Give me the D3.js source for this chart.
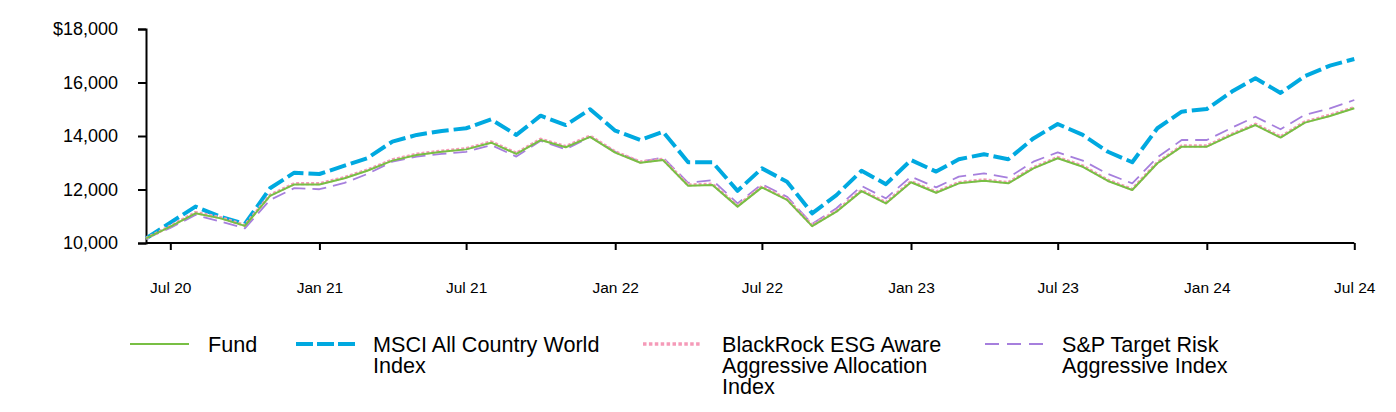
<!DOCTYPE html>
<html>
<head>
<meta charset="utf-8">
<script src="https://cdn.jsdelivr.net/npm/d3@7"></script>
<style>
  html, body { margin: 0; padding: 0; background: #fff; }
  svg { display: block; font-family: "Liberation Sans", Arial, sans-serif; }
</style>
</head>
<body>
<svg id="chart" width="1396" height="412"></svg>
<script>
// ---- data ----
const months = [
  "2020-06","2020-07","2020-08","2020-09","2020-10","2020-11","2020-12",
  "2021-01","2021-02","2021-03","2021-04","2021-05","2021-06","2021-07","2021-08","2021-09","2021-10","2021-11","2021-12",
  "2022-01","2022-02","2022-03","2022-04","2022-05","2022-06","2022-07","2022-08","2022-09","2022-10","2022-11","2022-12",
  "2023-01","2023-02","2023-03","2023-04","2023-05","2023-06","2023-07","2023-08","2023-09","2023-10","2023-11","2023-12",
  "2024-01","2024-02","2024-03","2024-04","2024-05","2024-06","2024-07"
];
const fund = [
  10170,10610,11110,10920,10640,11760,12190,
  12190,12420,12700,13080,13290,13410,13500,13750,13330,13850,13580,13970,
  13380,13000,13100,12140,12170,11360,12080,11610,10630,11170,11940,11480,
  12270,11880,12230,12330,12230,12790,13170,12850,12320,11980,12980,13600,
  13600,14040,14410,13940,14500,14750,15035
];
const msci = [
  10170,10760,11360,10980,10710,12045,12630,
  12580,12890,13170,13790,14040,14190,14290,14620,14040,14760,14410,15000,
  14200,13850,14160,13020,13020,11950,12790,12290,11110,11790,12700,12200,
  13100,12670,13130,13320,13130,13910,14450,14040,13410,13020,14290,14910,
  15010,15660,16160,15610,16240,16630,16880
];
const esg = [
  10170,10630,11140,10950,10660,11790,12220,
  12220,12450,12730,13110,13320,13440,13530,13780,13360,13880,13610,14000,
  13410,13030,13130,12170,12200,11390,12110,11640,10660,11200,11970,11510,
  12300,11910,12260,12360,12260,12820,13200,12880,12350,12010,13010,13630,
  13630,14070,14440,13970,14530,14780,15065
];
const spTarget = [
  10170,10560,11050,10800,10550,11610,12050,
  12010,12250,12580,13040,13230,13330,13410,13660,13230,13820,13500,13970,
  13410,13040,13200,12250,12350,11480,12200,11730,10710,11300,12130,11670,
  12480,12080,12480,12600,12440,13040,13390,13080,12580,12230,13200,13850,
  13850,14310,14720,14250,14790,15035,15346
];
const seriesNames = ["Fund", "MSCI All Country World Index", "BlackRock ESG Aware Aggressive Allocation Index", "S&P Target Risk Aggressive Index"];
const yTicks = [10000, 12000, 14000, 16000, 18000];
const xTickLabels = ["Jul 20","Jan 21","Jul 21","Jan 22","Jul 22","Jan 23","Jul 23","Jan 24","Jul 24"];
const xTickMonths = ["2020-07","2021-01","2021-07","2022-01","2022-07","2023-01","2023-07","2024-01","2024-07"];

// ---- chart ----
const svg = d3.select("#chart");
const parse = d3.timeParse("%Y-%m");
const dates = months.map(parse);

const x = d3.scaleTime().domain([parse("2020-06"), parse("2024-07")]).range([146, 1354.3]);
const y = d3.scaleLinear().domain([10000, 18000]).range([243, 29]);

// y axis
const yAxis = d3.axisLeft(y).tickValues(yTicks).tickSize(8).tickPadding(20)
  .tickFormat(d => d === 18000 ? "$" + d3.format(",")(d) : d3.format(",")(d));
const gy = svg.append("g").attr("transform", "translate(146,0)").call(yAxis);
gy.select(".domain").attr("stroke", "#000").attr("stroke-width", 2);
gy.selectAll(".tick line").attr("stroke", "#000").attr("stroke-width", 2);
gy.selectAll(".tick text").attr("font-size", 18).attr("fill", "#000")
  .attr("font-family", "Liberation Sans, Arial, sans-serif");

// x axis
const xAxis = d3.axisBottom(x).tickValues(xTickMonths.map(parse)).tickSize(7).tickPadding(32)
  .tickFormat((d, i) => xTickLabels[i]);
const gx = svg.append("g").attr("transform", "translate(0,243)").call(xAxis);
gx.select(".domain").attr("stroke", "#000").attr("stroke-width", 2)
  .attr("d", "M146,0H1354.3");
gx.selectAll(".tick line").attr("stroke", "#000").attr("stroke-width", 2);
gx.selectAll(".tick text").attr("font-size", 15.5).attr("fill", "#000")
  .attr("font-family", "Liberation Sans, Arial, sans-serif");

// lines
const styles = [
  { data: spTarget, color: "#A67FDD", width: 1.8, dash: "14,7" },
  { data: msci, color: "#00A9E0", width: 4, dash: "17,5" },
  { data: esg, color: "#F59AB8", width: 3.2, dash: "3,2" },
  { data: fund, color: "#78BF44", width: 2, dash: null }
];
const line = d3.line().x((d, i) => x(dates[i])).y(d => y(d));
styles.forEach(s => {
  svg.append("path").datum(s.data)
    .attr("fill", "none")
    .attr("stroke", s.color)
    .attr("stroke-width", s.width)
    .attr("stroke-dasharray", s.dash)
    .attr("stroke-linejoin", "round")
    .attr("d", line);
});

// legend
const legend = [
  { name: seriesNames[0], lines: ["Fund"], color: "#78BF44", width: 2, dash: null, x0: 130, x1: 189, tx: 208 },
  { name: seriesNames[1], lines: ["MSCI All Country World", "Index"], color: "#00A9E0", width: 4, dash: "17,4", x0: 296, x1: 355, tx: 373 },
  { name: seriesNames[2], lines: ["BlackRock ESG Aware", "Aggressive Allocation", "Index"], color: "#F59AB8", width: 3.5, dash: "3.5,2.4", x0: 643, x1: 702, tx: 722 },
  { name: seriesNames[3], lines: ["S&P Target Risk", "Aggressive Index"], color: "#A67FDD", width: 1.8, dash: "14,8", x0: 985, x1: 1044, tx: 1062 }
];
legend.forEach(l => {
  svg.append("line").attr("x1", l.x0).attr("x2", l.x1).attr("y1", 344).attr("y2", 344)
    .attr("stroke", l.color).attr("stroke-width", l.width).attr("stroke-dasharray", l.dash);
  const t = svg.append("text").attr("x", l.tx).attr("y", 352).attr("font-size", 21.6).attr("fill", "#000");
  l.lines.forEach((s, i) => {
    t.append("tspan").attr("x", l.tx).attr("dy", i === 0 ? 0 : 21).text(s);
  });
});
</script>
</body>
</html>
